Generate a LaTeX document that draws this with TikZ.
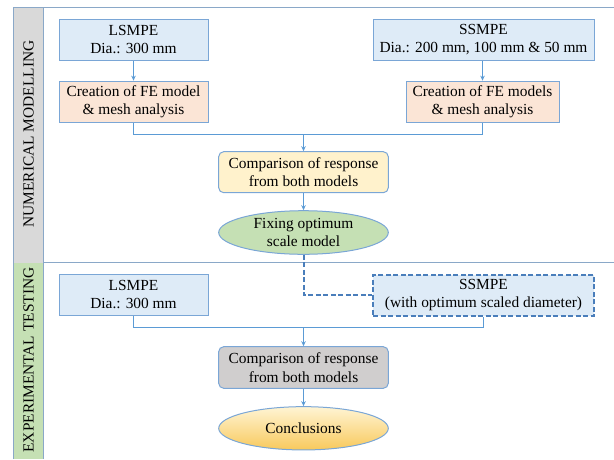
\documentclass[tikz,border=0pt]{standalone}
\usepackage{fontspec}
\setmainfont{Liberation Serif}
\newfontfamily\tnrfont{Liberation Serif}
\usetikzlibrary{shapes.geometric,arrows.meta}
\definecolor{boxblue}{HTML}{DEEBF7}
\definecolor{boxpeach}{HTML}{FBE5D6}
\definecolor{boxyellow}{HTML}{FFF2CC}
\definecolor{boxgreen}{HTML}{C5E0B4}
\definecolor{boxgray}{HTML}{D0CECE}
\definecolor{sidegray}{HTML}{D9D9D9}
\definecolor{linecol}{HTML}{5B9BD5}
\definecolor{bordercol}{HTML}{7AA6D6}
\definecolor{framecol}{HTML}{8AA8C8}
\definecolor{dashcol}{HTML}{4A7EBB}
\definecolor{ellbot}{HTML}{F8C95C}
\definecolor{elltop}{HTML}{FFF4D4}
\begin{document}
\begin{tikzpicture}[x=1pt,y=-1pt,
  every node/.style={font=\tnrfont\fontsize{15.4}{18.3}\selectfont, align=center, inner sep=0pt},
  pbox/.style={draw=bordercol, line width=1pt, rectangle},
  rbox/.style={draw=bordercol, line width=1pt, rectangle, rounded corners=5pt},
  ebox/.style={draw=bordercol, line width=1pt, ellipse},
  conn/.style={draw=linecol, line width=1pt},
  arr/.style={conn, -{Stealth[length=5pt,width=4.5pt]}},
  dconn/.style={draw=dashcol, line width=2pt, dash pattern=on 5pt off 2.5pt},
  sidetext/.style={rotate=90}
]
\useasboundingbox (0,0) rectangle (614,459);
% sidebar and frame
\fill[sidegray] (13,7.5) rectangle (43.5,262.5);
\fill[boxgreen] (13,262.5) rectangle (43.5,459);
\draw[framecol, line width=1pt] (13.5,459) -- (13.5,7.5) -- (614,7.5);
\draw[framecol, line width=1pt] (43.5,459) -- (43.5,7.5);
\draw[framecol, line width=1pt] (43.5,262.5) -- (614,262.5);
\node[sidetext] (lab1) at (28.6,134) {NUMERICAL MODELLING};
\node[sidetext] (lab2) at (28.6,360) {EXPERIMENTAL TESTING};

% numerical modelling
\node[pbox, fill=boxblue, minimum width=149pt, minimum height=41pt] (ls1) at (133.5,39.8) {LSMPE\\Dia.: 300 mm};
\node[pbox, fill=boxblue, minimum width=221pt, minimum height=41pt] (ss1) at (483.5,39.8) {SSMPE\\Dia.: 200 mm, 100 mm \& 50 mm};
\node[pbox, fill=boxpeach, minimum width=149pt, minimum height=41.7pt] (cr1) at (133.5,102) {Creation of FE model\\\& mesh analysis};
\node[pbox, fill=boxpeach, minimum width=153pt, minimum height=41.7pt] (cr2) at (482.5,102) {Creation of FE models\\\& mesh analysis};
\node[rbox, fill=boxyellow, minimum width=169.6pt, minimum height=41pt] (cmp1) at (303.5,172.2) {Comparison of response\\from both models};
\node[ebox, fill=boxgreen, minimum width=169.6pt, minimum height=43.6pt] (fix) at (303.5,232.5) {Fixing optimum\\scale model};

% experimental testing
\node[pbox, fill=boxblue, minimum width=149pt, minimum height=40.7pt] (ls2) at (133.5,294.7) {LSMPE\\Dia.: 300 mm};
\node[draw=dashcol, line width=2pt, dash pattern=on 5pt off 2.5pt, fill=boxblue, minimum width=221pt, minimum height=40.7pt] (ss2) at (483.5,295.3) {SSMPE\\(with optimum scaled diameter)};
\node[rbox, fill=boxgray, minimum width=169.6pt, minimum height=41.6pt] (cmp2) at (303.5,367.5) {Comparison of response\\from both models};
\node[ebox, top color=elltop, bottom color=ellbot, draw=bordercol, line width=1pt, minimum width=169.6pt, minimum height=43.3pt] (conc) at (303.5,428.3) {Conclusions};

% connectors
\coordinate (m1) at (303.5,134.5);
\coordinate (m2) at (303.5,327.5);
\coordinate (dk) at (303.5,295);
\draw[arr] (ls1) -- (cr1);
\draw[arr] (ss1.south -| cr2) -- (cr2);
\draw[conn] (cr1.south) |- (m1) -| (cr2.south);
\draw[arr] (m1) -- (cmp1);
\draw[arr] (cmp1) -- (fix);
\draw[dconn] (fix.south) -- (dk) -- (dk -| ss2.west);
\draw[conn] (ls2.south) |- (m2) -| (ss2.south);
\draw[arr] (m2) -- (cmp2);
\draw[arr] (cmp2) -- (conc);
\end{tikzpicture}
\end{document}
